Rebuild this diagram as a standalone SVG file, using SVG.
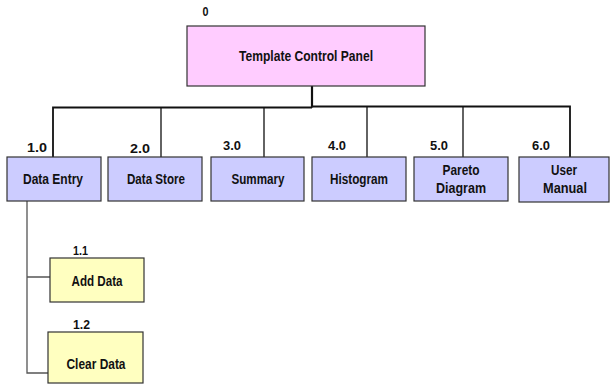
<svg xmlns="http://www.w3.org/2000/svg" width="610" height="388" viewBox="0 0 610 388">
<style>
text{font-family:"Liberation Sans Narrow","Liberation Sans",Arial,sans-serif;font-weight:bold;fill:#111;text-anchor:middle}
.t{font-size:14.5px}
.n{font-size:13.5px}
.box{stroke:#333;stroke-width:1.2}
.top{fill:#ffccff}
.l1{fill:#ccccff}
.l2{fill:#ffffc0}
.c{fill:none;stroke:#111;stroke-width:1.3}
.cg{fill:none;stroke:#555;stroke-width:1.3}
</style>
<rect width="610" height="388" fill="#fff"/>
<g id="connectors">
<path class="c" d="M312 86V107.5" style="stroke-width:2.2"/>
<path class="c" d="M53 157V107.5H312M312 106.5H570V157" style="stroke-width:1.8"/>
<path class="c" d="M161 107V157M264 107V157M367 107V157M463 107V157"/>
<path class="cg" d="M27 201V373H48M27 277H50"/>
</g>
<g id="n0">
<rect class="box top" x="187" y="26" width="238" height="60"/>
<text class="t" x="306" y="61" textLength="134" lengthAdjust="spacingAndGlyphs">Template Control Panel</text>
<text class="n" x="205.5" y="16" textLength="6" lengthAdjust="spacingAndGlyphs">0</text>
</g>
<g id="n1">
<rect class="box l1" x="7" y="157" width="94" height="44"/>
<text class="t" x="53" y="184" textLength="60" lengthAdjust="spacingAndGlyphs">Data Entry</text>
<text class="n" x="37" y="152" textLength="20" lengthAdjust="spacingAndGlyphs">1.0</text>
</g>
<g id="n2">
<rect class="box l1" x="108" y="157" width="94" height="44"/>
<text class="t" x="156" y="184" textLength="58" lengthAdjust="spacingAndGlyphs">Data Store</text>
<text class="n" x="140" y="153" textLength="20" lengthAdjust="spacingAndGlyphs">2.0</text>
</g>
<g id="n3">
<rect class="box l1" x="211" y="157" width="93" height="44"/>
<text class="t" x="258" y="184" textLength="53" lengthAdjust="spacingAndGlyphs">Summary</text>
<text class="n" x="232" y="150" textLength="18" lengthAdjust="spacingAndGlyphs">3.0</text>
</g>
<g id="n4">
<rect class="box l1" x="312" y="157" width="94" height="44"/>
<text class="t" x="359" y="184" textLength="58" lengthAdjust="spacingAndGlyphs">Histogram</text>
<text class="n" x="337" y="150" textLength="18" lengthAdjust="spacingAndGlyphs">4.0</text>
</g>
<g id="n5">
<rect class="box l1" x="414" y="157" width="94" height="44"/>
<text class="t" x="461" y="175" textLength="37" lengthAdjust="spacingAndGlyphs">Pareto</text>
<text class="t" x="461" y="193" textLength="50" lengthAdjust="spacingAndGlyphs">Diagram</text>
<text class="n" x="439" y="150" textLength="18" lengthAdjust="spacingAndGlyphs">5.0</text>
</g>
<g id="n6">
<rect class="box l1" x="519" y="157" width="90" height="45"/>
<text class="t" x="564" y="175" textLength="26" lengthAdjust="spacingAndGlyphs">User</text>
<text class="t" x="565" y="193" textLength="44" lengthAdjust="spacingAndGlyphs">Manual</text>
<text class="n" x="541" y="150" textLength="18" lengthAdjust="spacingAndGlyphs">6.0</text>
</g>
<g id="n1_1">
<rect class="box l2" x="50" y="258" width="94" height="44"/>
<text class="t" x="97" y="286" textLength="51" lengthAdjust="spacingAndGlyphs">Add Data</text>
<text class="n" x="80.5" y="255" textLength="15" lengthAdjust="spacingAndGlyphs">1.1</text>
</g>
<g id="n1_2">
<rect class="box l2" x="48" y="332" width="95" height="51"/>
<text class="t" x="96" y="369" textLength="59" lengthAdjust="spacingAndGlyphs">Clear Data</text>
<text class="n" x="81.5" y="329" textLength="17" lengthAdjust="spacingAndGlyphs">1.2</text>
</g>
</svg>
